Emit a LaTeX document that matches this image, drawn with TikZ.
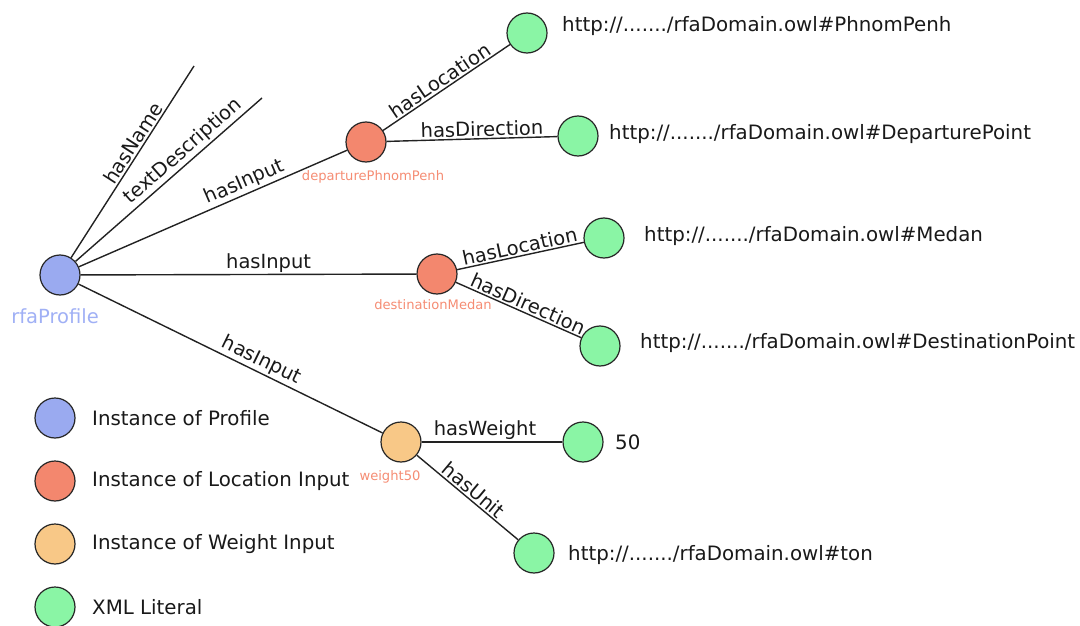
\documentclass[tikz,border=0pt]{standalone}
\usepackage{fontspec}
\setmainfont{DejaVu Sans}
\begin{document}
\definecolor{profileblue}{RGB}{154,170,240}
\definecolor{profiletext}{RGB}{160,176,245}
\definecolor{locred}{RGB}{243,135,110}
\definecolor{loctext}{RGB}{245,140,115}
\definecolor{weightorange}{RGB}{248,200,135}
\definecolor{literalgreen}{RGB}{138,245,165}
\definecolor{edgegray}{RGB}{34,34,34}
\begin{tikzpicture}[x=1pt,y=-1pt,
  inst/.style={circle,draw=black!85,line width=1.2pt,minimum size=40pt,inner sep=0pt},
  profile/.style={inst,fill=profileblue},
  locinput/.style={inst,fill=locred},
  wtinput/.style={inst,fill=weightorange},
  literal/.style={inst,fill=literalgreen},
  rel/.style={draw=edgegray,line width=1.4pt},
  rellabel/.style={sloped,above,inner sep=1.5pt,font=\fontsize{19.5}{22}\selectfont,text=black!90},
  value/.style={anchor=west,inner sep=0pt,font=\fontsize{19.8}{22}\selectfont,text=black!90},
  caption/.style={inner sep=0pt,font=\fontsize{19.5}{22}\selectfont},
  smallcap/.style={inner sep=0pt,font=\fontsize{13.1}{15}\selectfont,text=loctext}
]
\useasboundingbox (0,0) rectangle (1080,626);

% instances
\node[profile]  (root) at (60,275) {};
\node[locinput] (dep)  at (366,142) {};
\node[locinput] (dest) at (437,274) {};
\node[wtinput]  (wt)   at (401,442) {};

% literals
\node[literal] (pp)   at (527,33)  {};
\node[literal] (dp)   at (578,136) {};
\node[literal] (med)  at (604,238) {};
\node[literal] (dsp)  at (600,346) {};
\node[literal] (fifty) at (583,442) {};
\node[literal] (ton)  at (534,553) {};

% dangling properties
\coordinate (nameEnd) at (194,66);
\coordinate (descEnd) at (262,98);

% instance captions
\node[caption,text=profiletext] (rootcap) at (55,316) {rfaProfile};
\node[smallcap] (depcap)  at (373,177) {departurePhnomPenh};
\node[smallcap] (destcap) at (433,305) {destinationMedan};
\node[smallcap] (wtcap)   at (390,477) {weight50};

% literal values
\node[value] (ppv)  at (562,26)  {http://......./rfaDomain.owl\#PhnomPenh};
\node[value] (dpv)  at (609,134) {http://......./rfaDomain.owl\#DeparturePoint};
\node[value] (medv) at (644,236) {http://......./rfaDomain.owl\#Medan};
\node[value] (dspv) at (640,343) {http://......./rfaDomain.owl\#DestinationPoint};
\node[value] (fiftyv) at (615,442) {50};
\node[value] (tonv) at (568,555) {http://......./rfaDomain.owl\#ton};

% relations
\path[rel] (root) -- node[rellabel,pos=0.57] {hasName} (nameEnd);
\path[rel] (root) -- node[rellabel,pos=0.62] {textDescription} (descEnd);
\path[rel] (root) -- node[rellabel,pos=0.635] {hasInput} (dep);
\path[rel] (root) -- node[rellabel,pos=0.56] {hasInput} (dest);
\path[rel] (root) -- node[rellabel,pos=0.585] {hasInput} (wt);
\path[rel] (dep) -- node[rellabel,pos=0.49] {hasLocation} (pp);
\path[rel] (dep) -- node[rellabel,pos=0.56] {hasDirection} (dp);
\path[rel] (dest) -- node[rellabel,pos=0.51] {hasLocation} (med);
\path[rel] (dest) -- node[rellabel,pos=0.546] {hasDirection} (dsp);
\path[rel] (wt) -- node[rellabel,pos=0.45] {hasWeight} (fifty);
\path[rel] (wt) -- node[rellabel,pos=0.5] {hasUnit} (ton);

% legend
\node[profile]  (lg1) at (55,418) {};
\node[locinput] (lg2) at (55,481) {};
\node[wtinput]  (lg3) at (55,544) {};
\node[literal]  (lg4) at (55,607) {};
\node[value] (lt1) at (92,418) {Instance of Profile};
\node[value] (lt2) at (92,481) {Instance of Location Input};
\node[value] (lt3) at (92,544) {Instance of Weight Input};
\node[value] (lt4) at (92,607) {XML Literal};
\end{tikzpicture}
\end{document}
